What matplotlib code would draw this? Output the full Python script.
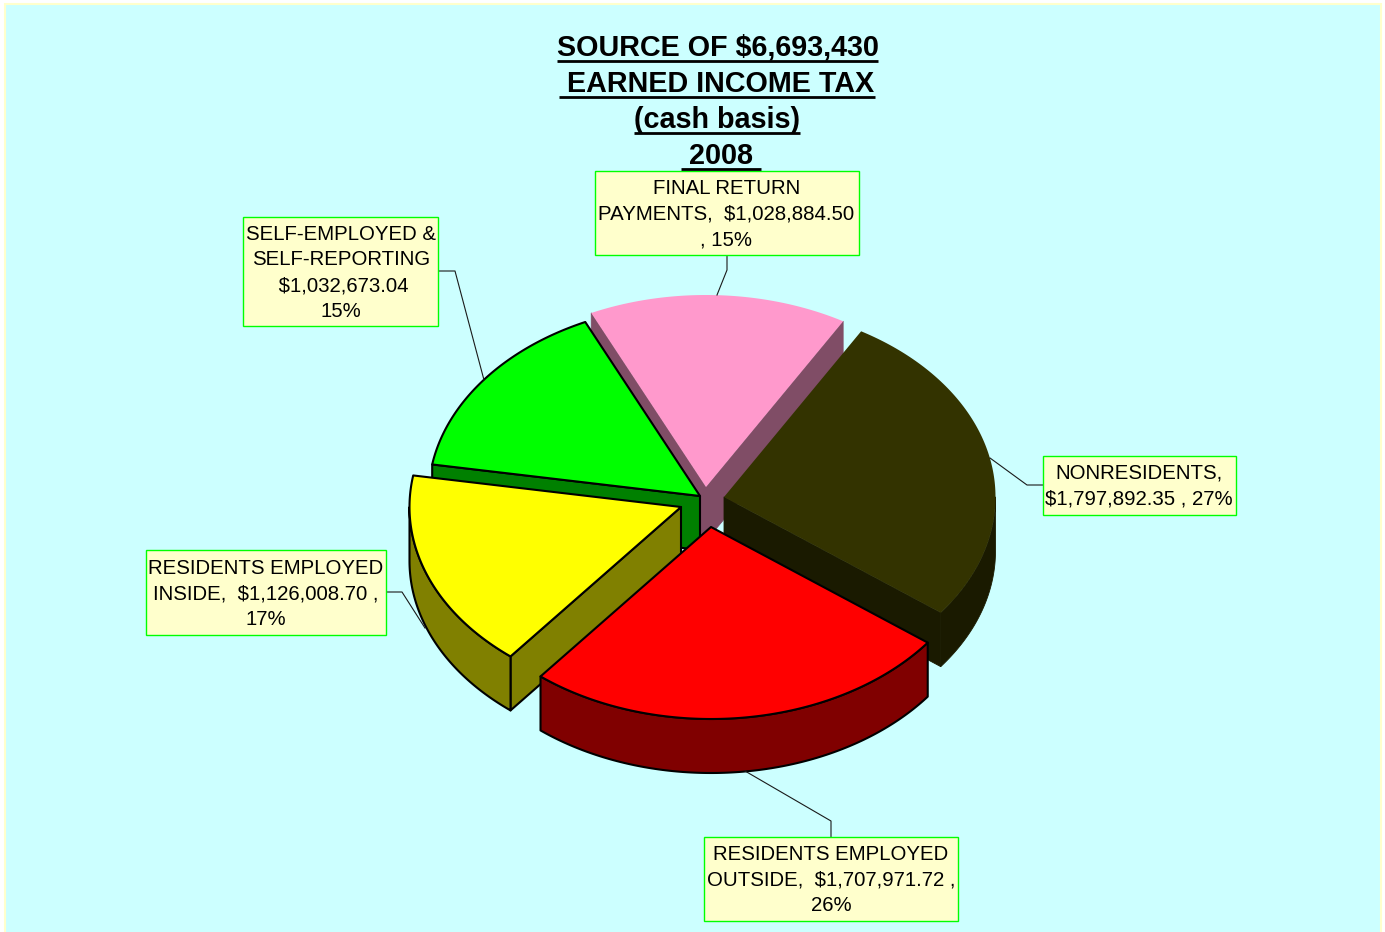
import matplotlib
matplotlib.use('Agg')
import matplotlib.pyplot as plt
from matplotlib.patches import Polygon, Rectangle
import numpy as np

plt.rcParams['font.family'] = ['Liberation Sans', 'DejaVu Sans']

# income tax collected per source, clockwise from the top slice
sources = ['FINAL RETURN', 'NONRESIDENTS', 'RESIDENTS OUTSIDE', 'RESIDENTS INSIDE', 'SELF-EMPLOYED']
amounts = [1028884.50, 1797892.35, 1707971.72, 1126008.70, 1032673.04]
top_colors = ['#FF99CC', '#333300', '#FF0000', '#FFFF00', '#00FF00']
side_colors = ['#804D66', '#1A1A00', '#800000', '#808000', '#008000']
edge_colors = ['none', 'none', 'black', 'black', 'black']

title_lines = ['SOURCE OF $6,693,430', ' EARNED INCOME TAX', '(cash basis)', ' 2008 ']
label_lines = [
    ['FINAL RETURN', 'PAYMENTS,  $1,028,884.50', ', 15%'],
    ['NONRESIDENTS,', '$1,797,892.35 , 27%'],
    ['RESIDENTS EMPLOYED', 'OUTSIDE,  $1,707,971.72 ,', '26%'],
    ['RESIDENTS EMPLOYED', 'INSIDE,  $1,126,008.70 ,', '17%'],
    ['SELF-EMPLOYED &', 'SELF-REPORTING', ' $1,032,673.04', '15%'],
]

# pie layout in pixels
cx, cy = 702, 507
rx, ry = 271.5, 192
depth = 54
start_angle = -25
shifts = [(4, -20), (22, -10), (9, 20), (-21, 0), (-2, -11)]

# label box (left, top, right, bottom), first baseline, text centre
boxes = [
    (594.5, 170.5, 858.5, 255, 193.5, 726.5),
    (1042.5, 455.5, 1236, 514.5, 478.5, 1139),
    (703.5, 836.5, 958, 921, 859.5, 831),
    (145.5, 549.5, 386, 635, 573.5, 266),
    (243, 216.5, 438, 326, 239.5, 341),
]
leaders = [
    [(727, 255), (727, 270), (717, 295)],
    [(1043, 485), (1027, 485), (990, 458)],
    [(831, 837), (831, 821), (745, 771)],
    [(386, 592), (402, 592), (425, 628)],
    [(438, 271), (455, 271), (484, 380)],
]

fig = plt.figure(figsize=(13.85, 9.32), dpi=100, facecolor='white')
ax = fig.add_axes([0, 0, 1, 1])
ax.set_xlim(0, 1385)
ax.set_ylim(932, 0)
ax.axis('off')

ax.add_patch(Rectangle((5, 4), 1375.5, 940, facecolor='#CCFFFF', edgecolor='#FFFFCC', lw=1.5, zorder=0))

amounts = np.array(amounts)
sweeps = amounts / amounts.sum() * 360
starts = start_angle + np.concatenate(([0], np.cumsum(sweeps)[:-1]))


def rim(ax0, ay0, a, b, n=120):
    t = np.radians(np.linspace(a, b, n))
    return np.column_stack((ax0 + rx * np.sin(t), ay0 - ry * np.cos(t)))


def draw_slice(i, z):
    a = starts[i]
    b = a + sweeps[i]
    ax0 = cx + shifts[i][0]
    ay0 = cy + shifts[i][1]
    apex = np.array([ax0, ay0])
    arc = rim(ax0, ay0, a, b)
    down = np.array([0, depth])
    edge = edge_colors[i]
    side_edge = side_colors[i] if edge == 'none' else edge
    lw = 0.6 if edge == 'none' else 1.5

    # cut faces that look toward the viewer
    for p, q in [(apex, arc[0]), (arc[-1], apex)]:
        if q[0] < p[0]:
            quad = np.array([p, q, q + down, p + down])
            ax.add_patch(Polygon(quad, closed=True, facecolor=side_colors[i],
                                 edgecolor=side_edge, lw=lw, joinstyle='round', zorder=z))
    # outer wall, only the front half of the rim shows
    lo, hi = max(a, 90), min(b, 270)
    if lo < hi:
        wall = rim(ax0, ay0, lo, hi)
        outline = np.vstack((wall, wall[::-1] + down))
        ax.add_patch(Polygon(outline, closed=True, facecolor=side_colors[i],
                             edgecolor=side_edge, lw=lw, joinstyle='round', zorder=z))
    # top face
    top = np.vstack((apex, arc))
    ax.add_patch(Polygon(top, closed=True, facecolor=top_colors[i], edgecolor=edge,
                         lw=1.5, joinstyle='round', zorder=z + 0.5))


# back slices first so the front ones cover them
for z, i in enumerate([0, 4, 1, 3, 2]):
    draw_slice(i, z + 1)

for path, box, lines in zip(leaders, boxes, label_lines):
    xs, ys = zip(*path)
    ax.plot(xs, ys, color='#1a1a1a', lw=0.8, zorder=8)
    left, up, right, low, base, mid = box
    ax.add_patch(Rectangle((left, up), right - left, low - up, facecolor='#FFFFCC',
                           edgecolor='#00FF00', lw=1, zorder=9))
    for k, line in enumerate(lines):
        ax.text(mid, base + k * 25.8, line, ha='center', va='baseline', fontsize=14.7,
                color='black', zorder=10)

# title, underlined by hand since text has no underline option
title_x = [717.5, 717, 717, 721]
title_y = [56, 92.5, 128, 164.5]
renderer = fig.canvas.get_renderer()
for line, x, y in zip(title_lines, title_x, title_y):
    t = ax.text(x, y, line, ha='center', va='baseline', fontsize=20.7, fontweight='bold',
                color='black', zorder=10)
    bb = t.get_window_extent(renderer)
    ax.plot([bb.x0, bb.x1], [y + 4.5, y + 4.5], color='black', lw=2.0,
            solid_capstyle='butt', zorder=10)

fig.savefig('out.png', dpi=100, facecolor='white')
